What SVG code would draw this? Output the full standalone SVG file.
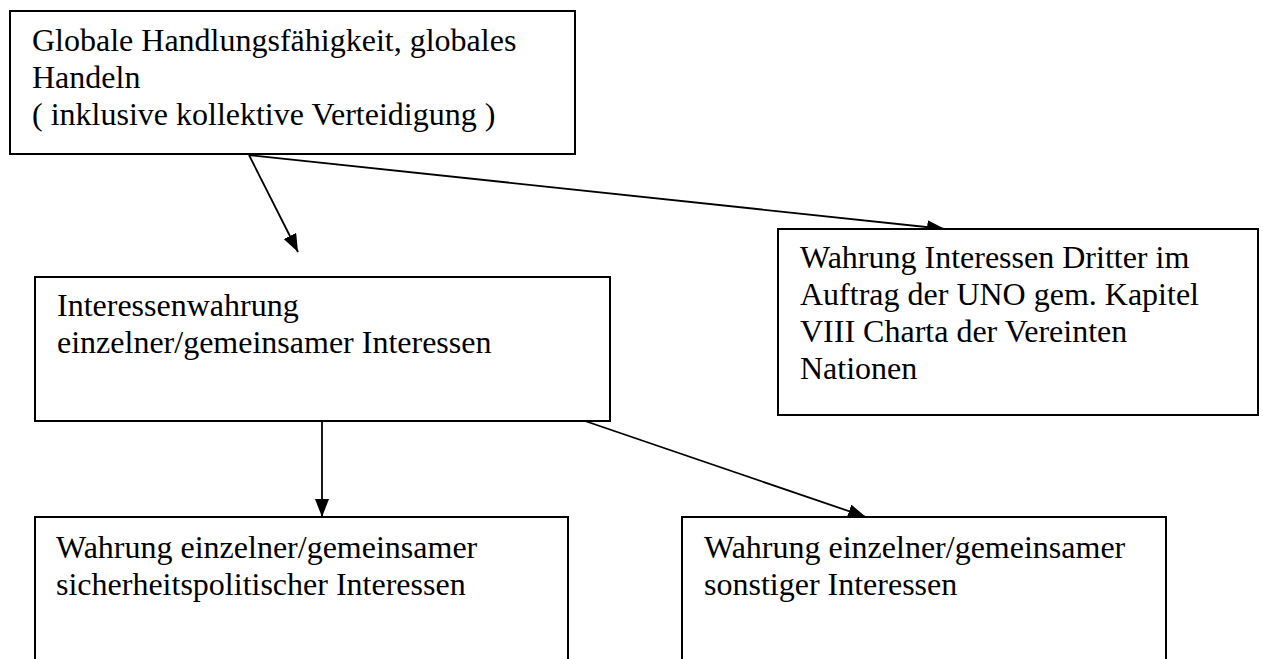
<svg xmlns="http://www.w3.org/2000/svg" width="1263" height="659" viewBox="0 0 1263 659">
<style>
.box{fill:#fff;stroke:#000;stroke-width:2}
.t{font-family:"Liberation Serif","Times New Roman",serif;font-size:32px;fill:#000}
.c{stroke:#000;stroke-width:1.8;fill:none}
</style>
<defs>
<marker id="ah" markerUnits="userSpaceOnUse" markerWidth="19" markerHeight="15" refX="18" refY="7" orient="auto">
<path d="M0,0 L18,7 L0,14 z" fill="#000"/>
</marker>
</defs>
<rect width="1263" height="659" fill="#fff"/>
<g id="connectors">
<line class="c" x1="249" y1="155" x2="298" y2="252" marker-end="url(#ah)"/>
<line class="c" x1="249" y1="155" x2="945" y2="229" marker-end="url(#ah)"/>
<line class="c" x1="322" y1="421" x2="322" y2="517" marker-end="url(#ah)"/>
<line class="c" x1="585" y1="421" x2="866" y2="517" marker-end="url(#ah)"/>
</g>
<g id="n1">
<rect class="box" x="10" y="11" width="565" height="143"/>
<text class="t" x="32" y="51">Globale Handlungsfähigkeit, globales</text>
<text class="t" x="32" y="88">Handeln</text>
<text class="t" x="32" y="125">( inklusive kollektive Verteidigung )</text>
</g>
<g id="n2">
<rect class="box" x="35" y="277" width="575" height="144"/>
<text class="t" x="57" y="316">Interessenwahrung</text>
<text class="t" x="57" y="353">einzelner/gemeinsamer Interessen</text>
</g>
<g id="n3">
<rect class="box" x="778" y="229" width="480" height="186"/>
<text class="t" x="800" y="268">Wahrung Interessen Dritter im</text>
<text class="t" x="800" y="305">Auftrag der UNO gem. Kapitel</text>
<text class="t" x="800" y="342">VIII Charta der Vereinten</text>
<text class="t" x="800" y="379">Nationen</text>
</g>
<g id="n4">
<rect class="box" x="35" y="517" width="533" height="200"/>
<text class="t" x="56" y="558">Wahrung einzelner/gemeinsamer</text>
<text class="t" x="56" y="595">sicherheitspolitischer Interessen</text>
</g>
<g id="n5">
<rect class="box" x="682" y="517" width="484" height="200"/>
<text class="t" x="704" y="558">Wahrung einzelner/gemeinsamer</text>
<text class="t" x="704" y="595">sonstiger Interessen</text>
</g>
</svg>
